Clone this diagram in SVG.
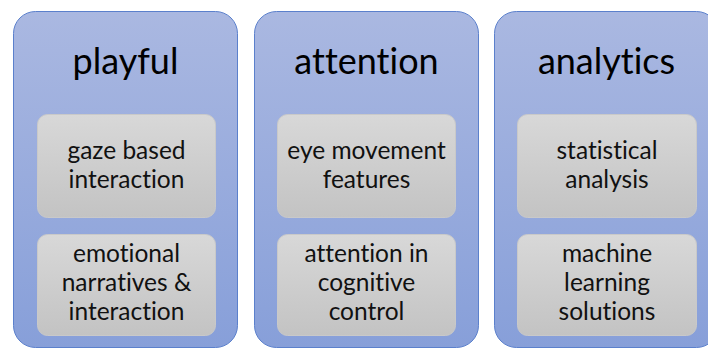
<svg xmlns="http://www.w3.org/2000/svg" width="708" height="350" viewBox="0 0 708 350">
<defs>
<linearGradient id="gOuter" x1="0" y1="0" x2="0" y2="1">
<stop offset="0" stop-color="#aab8e1"/>
<stop offset="1" stop-color="#879fd9"/>
</linearGradient>
<linearGradient id="gInner" x1="0" y1="0" x2="0" y2="1">
<stop offset="0" stop-color="#d8d8d8"/>
<stop offset="1" stop-color="#c3c3c3"/>
</linearGradient>
</defs>
<style>
.outer{fill:url(#gOuter);stroke:#5b80cc;stroke-width:1}
.inner{fill:url(#gInner);stroke:#c9c9c9;stroke-width:1}
text{font-variant-ligatures:none;font-feature-settings:"liga" 0,"clig" 0}
.title{font-family:"Lato","Open Sans","Liberation Sans",sans-serif;font-size:36px;fill:#000;text-anchor:middle}
.lbl{font-family:"Lato","Open Sans","Liberation Sans",sans-serif;font-size:24.5px;fill:#111;text-anchor:middle}
</style>
<rect width="708" height="350" fill="#ffffff"/>
<g id="playful">
<rect class="outer" x="13.5" y="11.5" width="224" height="336" rx="22"/>
<text class="title" x="125.5" y="74">playful</text>
</g>
<g id="gaze">
<rect class="inner" x="37.5" y="114.5" width="178" height="103" rx="10"/>
<text class="lbl" x="126.5" y="159">gaze based</text>
<text class="lbl" x="126.5" y="188">interaction</text>
</g>
<g id="emotional">
<rect class="inner" x="37.5" y="234.5" width="178" height="101" rx="10"/>
<text class="lbl" x="126.5" y="262">emotional</text>
<text class="lbl" x="126.5" y="291">narratives &amp;</text>
<text class="lbl" x="126.5" y="320">interaction</text>
</g>
<g id="attention">
<rect class="outer" x="254.5" y="11.5" width="224" height="336" rx="22"/>
<text class="title" x="366.5" y="74">attention</text>
</g>
<g id="eye">
<rect class="inner" x="277.5" y="114.5" width="178" height="103" rx="10"/>
<text class="lbl" x="366.5" y="159">eye movement</text>
<text class="lbl" x="366.5" y="188">features</text>
</g>
<g id="cognitive">
<rect class="inner" x="277.5" y="234.5" width="178" height="101" rx="10"/>
<text class="lbl" x="366.5" y="262">attention in</text>
<text class="lbl" x="366.5" y="291">cognitive</text>
<text class="lbl" x="366.5" y="320">control</text>
</g>
<g id="analytics">
<rect class="outer" x="494.5" y="11.5" width="224" height="336" rx="22"/>
<text class="title" x="606.5" y="74">analytics</text>
</g>
<g id="statistical">
<rect class="inner" x="517.5" y="114.5" width="179" height="103" rx="10"/>
<text class="lbl" x="607" y="159">statistical</text>
<text class="lbl" x="607" y="188">analysis</text>
</g>
<g id="ml">
<rect class="inner" x="517.5" y="234.5" width="179" height="101" rx="10"/>
<text class="lbl" x="607" y="262">machine</text>
<text class="lbl" x="607" y="291">learning</text>
<text class="lbl" x="607" y="320">solutions</text>
</g>
<g id="connectors"></g>
</svg>
